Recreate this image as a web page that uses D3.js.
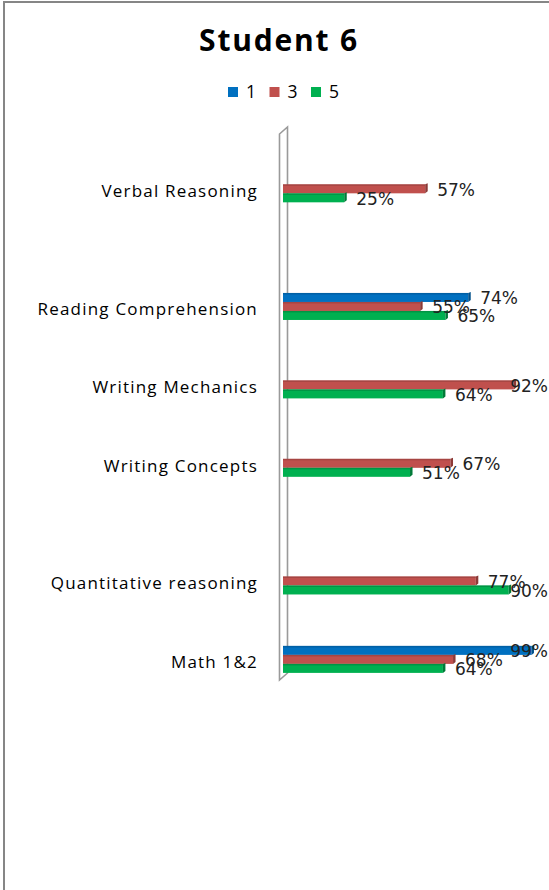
<!DOCTYPE html>
<html>
<head>
<meta charset="utf-8">
<title>Student 6</title>
<script src="https://d3js.org/d3.v7.min.js"></script>
<style>
  body { margin: 0; background: #fff; }
</style>
</head>
<body>
<svg id="chart" width="549" height="890"></svg>
<script>
// data (blank rows kept as in the sheet)
var categories = ["", "Verbal Reasoning", "", "", "Reading Comprehension", "", "Writing Mechanics", "",
                  "Writing Concepts", "", "", "Quantitative reasoning", "", "Math 1&2"];
var seriesNames = ["1", "3", "5"];
var values1 = [null, null, null, null, 0.74, null, null, null, null, null, null, null, null, 0.99];
var values3 = [null, 0.57, null, null, 0.55, null, 0.92, null, 0.67, null, null, 0.77, null, 0.68];
var values5 = [null, 0.25, null, null, 0.65, null, 0.64, null, 0.51, null, null, 0.90, null, 0.64];

var colors = ["#0070C0", "#C0504D", "#00B050"];
var capColors = ["#00508a", "#8c3a37", "#007a38"];

var width = 549, height = 890;
var svg = d3.select("#chart");

svg.append("rect").attr("width", width).attr("height", height).attr("fill", "#fff");
// chart border (top and left visible)
svg.append("line").attr("x1", 3).attr("x2", width).attr("y1", 2).attr("y2", 2)
  .attr("stroke", "#868686").attr("stroke-width", 2);
svg.append("line").attr("x1", 4).attr("x2", 4).attr("y1", 1).attr("y2", height)
  .attr("stroke", "#868686").attr("stroke-width", 2);

// title
svg.append("text")
  .attr("x", 279).attr("y", 51)
  .attr("text-anchor", "middle")
  .style("font-family", "'Open Sans', sans-serif")
  .style("font-weight", "bold")
  .style("font-size", "30px")
  .style("letter-spacing", "1.8px")
  .text("Student 6");

// legend
var legend = svg.append("g").attr("transform", "translate(228,87)");
seriesNames.forEach(function(name, i) {
  var g = legend.append("g").attr("transform", "translate(" + (i * 41.5) + ",0)");
  g.append("rect").attr("width", 10).attr("height", 10).attr("fill", colors[i]);
  g.append("text").attr("x", 18).attr("y", 5).attr("dy", "0.35em")
    .style("font-family", "'Open Sans', sans-serif").style("font-size", "17.5px")
    .text(name);
});

// scales
var x = d3.scaleLinear().domain([0, 1]).range([283, 536]);
var y = d3.scaleBand().domain(d3.range(categories.length)).range([130, 679]).padding(0);
var inner = d3.scaleBand().domain(seriesNames).range([-13.5, 13.5]);

// 3d wall
var wy0 = y.range()[0], wy1 = y.range()[1];
svg.append("path")
  .attr("d", "M279.5," + (wy0 + 4) + " L287.5," + (wy0 - 3) + " L287.5," + (wy1 - 6) +
             " L279.5," + (wy1 + 1) + " Z")
  .attr("fill", "#fff").attr("stroke", "#9a9a9a").attr("stroke-width", 1.6);

// category labels
var axis = d3.axisLeft(y).tickSize(0).tickPadding(0)
  .tickFormat(function(i) { return categories[i]; });
var ag = svg.append("g").attr("transform", "translate(258,3)").call(axis);
ag.select(".domain").remove();
ag.selectAll("text")
  .style("font-family", "'Open Sans', sans-serif")
  .style("font-size", "17px")
  .style("letter-spacing", "1.2px")
  .attr("fill", "#000");

// bars
var allValues = [values1, values3, values5];
var bars = [];
allValues.forEach(function(vals, s) {
  vals.forEach(function(v, i) {
    if (v != null) bars.push({s: s, i: i, v: v});
  });
});

var bh = inner.bandwidth();
var bg = svg.append("g");
bars.forEach(function(d) {
  var y0 = y(d.i) + y.bandwidth() / 2 + inner(seriesNames[d.s]);
  var x0 = x(0), x1 = x(d.v);
  bg.append("rect")
    .attr("x", x0).attr("y", y0).attr("width", x1 - x0 - 2).attr("height", bh)
    .attr("fill", colors[d.s]);
  // top shade
  bg.append("rect")
    .attr("x", x0).attr("y", y0).attr("width", x1 - x0 - 2).attr("height", 1.5)
    .attr("fill", capColors[d.s]).attr("opacity", 0.5);
  // end cap
  bg.append("path")
    .attr("d", "M" + (x1 - 2) + "," + y0 + " L" + (x1 + 0.5) + "," + (y0 - 1) +
               " L" + (x1 + 0.5) + "," + (y0 + bh - 2) + " L" + (x1 - 2) + "," + (y0 + bh) + " Z")
    .attr("fill", capColors[d.s]);
});

// data labels
var lg = svg.append("g");
bars.forEach(function(d) {
  var yc = y(d.i) + y.bandwidth() / 2 + inner(seriesNames[d.s]) + bh / 2 + 1;
  var t = lg.append("text")
    .attr("y", yc).attr("dy", "0.35em")
    .style("font-family", "'DejaVu Sans', sans-serif")
    .style("font-size", "17px")
    .attr("fill", "#222")
    .text(Math.round(d.v * 100) + "%");
  var w = t.node().getComputedTextLength();
  t.attr("x", Math.min(x(d.v) + 10, width - 1 - w));
});
</script>
</body>
</html>
